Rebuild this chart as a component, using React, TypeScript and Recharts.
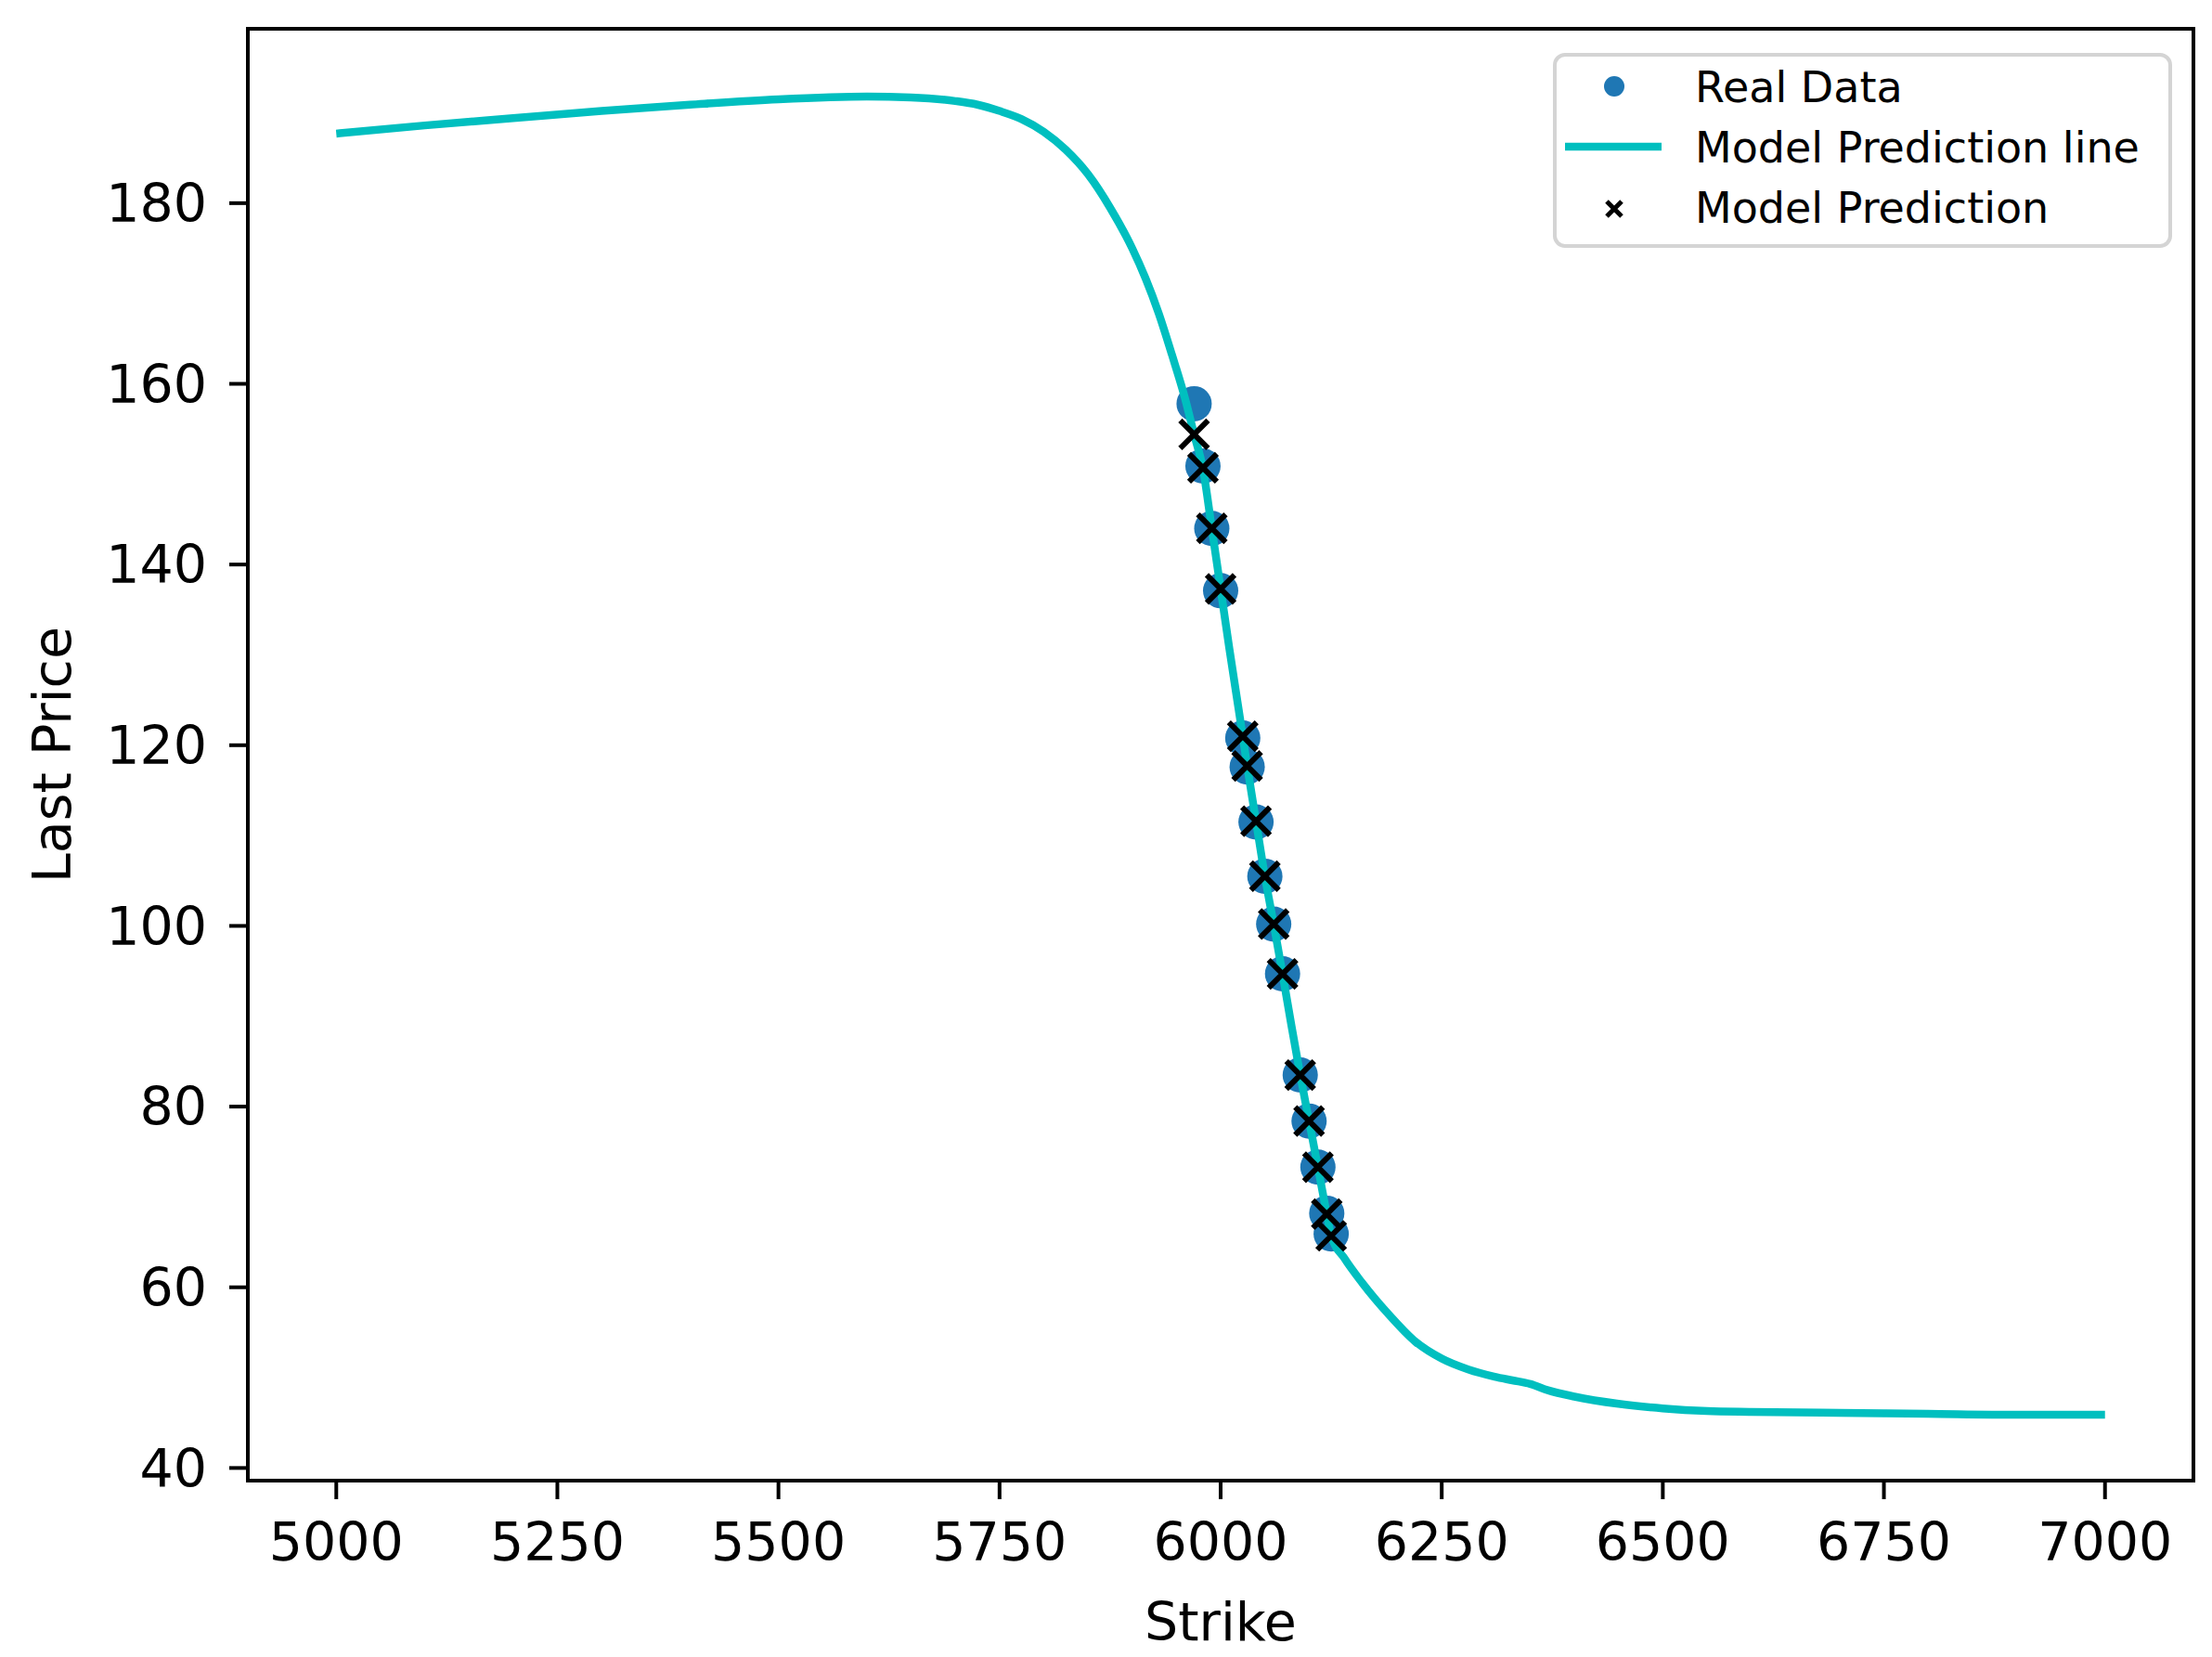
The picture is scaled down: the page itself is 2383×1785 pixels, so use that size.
import React from "react";
import { ComposedChart, Legend, Line, ReferenceArea, Scatter, XAxis, YAxis } from "recharts";

const FONT = "'DejaVu Sans', sans-serif";

// option quotes: strike and observed last price
const strikes = [5970, 5980, 5990, 6000, 6025, 6030, 6040, 6050, 6060, 6070, 6090, 6100, 6110, 6120, 6125];
const realPrices = [157.8, 150.9, 144.0, 137.1, 120.8, 117.6, 111.5, 105.5, 100.2, 94.7, 83.5, 78.4, 73.3, 68.2, 65.9];
const predictedPrices = [154.4, 150.7, 144.0, 137.3, 121.0, 117.7, 111.6, 105.5, 100.2, 94.7, 83.5, 78.4, 73.3, 68.1, 65.7];

// model curve
const curveStrikes = [
  5000, 5100, 5200, 5300, 5400, 5500, 5600, 5650, 5700, 5725, 5750, 5775, 5800, 5825, 5850, 5875, 5900, 5915, 5930, 5945, 5960,
  5970, 5980, 5990, 6000, 6010, 6025, 6030, 6040, 6050, 6060, 6070, 6080, 6090, 6100, 6110, 6120, 6125,
  6140, 6160, 6190, 6220, 6250, 6280, 6310, 6330, 6350, 6370, 6400, 6450, 6500, 6550, 6600, 6700, 6800, 6900, 7000,
];
const curvePrices = [
  187.7, 188.6, 189.4, 190.2, 190.9, 191.5, 191.8, 191.7, 191.3, 190.9, 190.2, 189.3, 187.9, 185.9, 183.2, 179.5, 175.0, 171.7, 167.8, 163.2, 158.3,
  154.4, 150.6, 144.0, 137.3, 130.6, 121.0, 117.7, 111.6, 105.5, 100.2, 94.7, 89.0, 83.5, 78.4, 73.3, 68.1, 65.7,
  63.2, 60.5, 57.0, 54.0, 52.1, 50.9, 50.1, 49.7, 49.3, 48.6, 47.9, 47.1, 46.6, 46.3, 46.2, 46.1, 46.0, 45.9, 45.9,
];

const xTicks = [5000, 5250, 5500, 5750, 6000, 6250, 6500, 6750, 7000];
const yTicks = [40, 60, 80, 100, 120, 140, 160, 180];

const realData = strikes.map((strike, i) => ({ strike, price: realPrices[i] }));
const predictedData = strikes.map((strike, i) => ({ strike, price: predictedPrices[i] }));
const curveData = curveStrikes.map((strike, i) => ({ strike, price: curvePrices[i] }));

const RealDot = (p: any) => <circle cx={p.cx} cy={p.cy} r={19} fill="#1f77b4" />;

const Cross = (p: any) => {
  const d = 15;
  return (
    <path
      d={`M${p.cx - d},${p.cy - d}L${p.cx + d},${p.cy + d}M${p.cx - d},${p.cy + d}L${p.cx + d},${p.cy - d}`}
      stroke="#000"
      strokeWidth={6}
      fill="none"
    />
  );
};

function LegendBox() {
  return (
    <svg width={667} height={212} style={{ display: "block", fontFamily: FONT }}>
      <rect x={2} y={2} width={663} height={206} rx={11} fill="#fff" fillOpacity={0.8} stroke="#d4d4d4" strokeWidth={4} />
      <circle cx={66} cy={36} r={11} fill="#1f77b4" />
      <text x={153} y={53} fontSize={46} fill="#000">Real Data</text>
      <line x1={13} x2={117} y1={101} y2={101} stroke="#00bfbf" strokeWidth={8.5} />
      <text x={153} y={118} fontSize={46} fill="#000">Model Prediction line</text>
      <path d="M58,160L74,176M58,176L74,160" stroke="#000" strokeWidth={5} />
      <text x={153} y={183} fontSize={46} fill="#000">Model Prediction</text>
    </svg>
  );
}

export default function App() {
  return (
    <div style={{ position: "absolute", left: 0, top: 0, background: "#fff" }}>
      <ComposedChart width={2383} height={1785} margin={{ top: 31, right: 20, bottom: 0, left: 0 }}>
        <XAxis
          dataKey="strike"
          type="number"
          domain={[4900, 7100]}
          allowDataOverflow
          ticks={xTicks}
          height={190}
          tickSize={20}
          tickMargin={26}
          axisLine={{ stroke: "#000", strokeWidth: 4 }}
          tickLine={{ stroke: "#000", strokeWidth: 4 }}
          tick={{ fill: "#000", fontSize: 57, fontFamily: FONT }}
          label={{
            content: (props: any) => {
              const vb = props.viewBox;
              return (
                <text x={vb.x + vb.width / 2} y={vb.y + 172} textAnchor="middle" fontSize={57} fontFamily={FONT} fill="#000">
                  Strike
                </text>
              );
            },
          }}
        />
        <YAxis
          dataKey="price"
          type="number"
          domain={[38.6, 199.3]}
          allowDataOverflow
          ticks={yTicks}
          width={267}
          tickSize={20}
          tickMargin={24}
          axisLine={{ stroke: "#000", strokeWidth: 4 }}
          tickLine={{ stroke: "#000", strokeWidth: 4 }}
          tick={{ fill: "#000", fontSize: 57, fontFamily: FONT }}
          label={{
            content: (props: any) => {
              const vb = props.viewBox;
              const cy = vb.y + vb.height / 2;
              return (
                <text x={76} y={cy} transform={`rotate(-90 76 ${cy})`} textAnchor="middle" fontSize={57} fontFamily={FONT} fill="#000">
                  Last Price
                </text>
              );
            },
          }}
        />
        <ReferenceArea x1={4900} x2={7100} y1={38.6} y2={199.3} fill="none" stroke="#000" strokeWidth={4} ifOverflow="visible" />
        <Scatter name="Real Data" data={realData} shape={RealDot} isAnimationActive={false} zIndex={300} />
        <Line
          name="Model Prediction line"
          data={curveData}
          dataKey="price"
          type="monotone"
          stroke="#00bfbf"
          strokeWidth={8.5}
          dot={false}
          activeDot={false}
          isAnimationActive={false}
          zIndex={400}
        />
        <Scatter name="Model Prediction" data={predictedData} shape={Cross} isAnimationActive={false} zIndex={600} />
        <Legend
          layout="horizontal"
          align="center"
          verticalAlign="middle"
          content={() => <LegendBox />}
          wrapperStyle={{ position: "absolute", left: 1673, top: 57, width: 667, height: 212 }}
        />
      </ComposedChart>
    </div>
  );
}
